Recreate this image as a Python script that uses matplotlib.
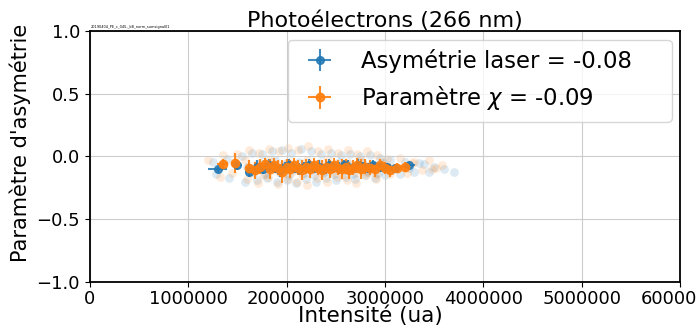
import numpy as np
import matplotlib
matplotlib.use('Agg')
import matplotlib.pyplot as plt

# intensities in units of 1e6 (ua), asymmetry values
blue_x = [1.30, 1.50, 1.62, 1.70, 1.76, 1.82, 1.88, 1.93, 1.98, 2.03, 2.08, 2.13, 2.18, 2.23, 2.28,
          2.33, 2.38, 2.43, 2.48, 2.53, 2.58, 2.63, 2.68, 2.73, 2.78, 2.83, 2.88, 2.95, 3.02, 3.10, 3.25]
blue_y = [-0.10, -0.07, -0.12, -0.08, -0.10, -0.07, -0.09, -0.11, -0.08, -0.07, -0.09, -0.10, -0.08, -0.07, -0.09,
          -0.08, -0.10, -0.07, -0.08, -0.09, -0.07, -0.08, -0.09, -0.07, -0.08, -0.09, -0.07, -0.08, -0.08, -0.09, -0.07]
blue_xerr = [0.10, 0.05, 0.04, 0.03, 0.03, 0.03, 0.03, 0.03, 0.03, 0.03, 0.03, 0.03, 0.03, 0.03, 0.03,
             0.03, 0.03, 0.03, 0.03, 0.03, 0.03, 0.03, 0.03, 0.03, 0.03, 0.03, 0.03, 0.04, 0.04, 0.05, 0.06]
blue_yerr = [0.02, 0.04, 0.04, 0.05, 0.04, 0.05, 0.04, 0.05, 0.04, 0.05, 0.04, 0.05, 0.04, 0.05, 0.04,
             0.05, 0.04, 0.05, 0.04, 0.05, 0.04, 0.05, 0.04, 0.05, 0.04, 0.04, 0.04, 0.04, 0.03, 0.03, 0.02]

orange_x = [1.35, 1.48, 1.62, 1.68, 1.73, 1.78, 1.83, 1.87, 1.91, 1.95, 2.00, 2.04, 2.08, 2.12, 2.16, 2.20,
            2.24, 2.28, 2.32, 2.36, 2.40, 2.44, 2.48, 2.52, 2.56, 2.60, 2.64, 2.68, 2.72, 2.76, 2.80, 2.85,
            2.90, 2.95, 3.00, 3.05, 3.12, 3.20]
orange_y = [-0.06, -0.05, -0.09, -0.11, -0.08, -0.06, -0.10, -0.07, -0.09, -0.12, -0.08, -0.10, -0.07, -0.09,
            -0.11, -0.08, -0.10, -0.07, -0.09, -0.11, -0.08, -0.10, -0.07, -0.09, -0.10, -0.08, -0.11, -0.09,
            -0.07, -0.10, -0.08, -0.09, -0.10, -0.07, -0.09, -0.11, -0.09, -0.08]
orange_xerr = [0.06, 0.04, 0.03, 0.03, 0.03, 0.03, 0.03, 0.03, 0.03, 0.03, 0.03, 0.03, 0.03, 0.03, 0.03, 0.03,
               0.03, 0.03, 0.03, 0.03, 0.03, 0.03, 0.03, 0.03, 0.03, 0.03, 0.03, 0.03, 0.03, 0.03, 0.03, 0.03,
               0.03, 0.03, 0.03, 0.04, 0.04, 0.05]
orange_yerr = [0.04, 0.08, 0.06, 0.07, 0.06, 0.05, 0.08, 0.06, 0.06, 0.09, 0.06, 0.07, 0.06, 0.06, 0.08, 0.06,
               0.07, 0.06, 0.06, 0.08, 0.06, 0.07, 0.06, 0.06, 0.08, 0.06, 0.07, 0.06, 0.06, 0.08, 0.06, 0.06,
               0.06, 0.05, 0.05, 0.05, 0.04, 0.04]

# individual shots (faint cloud)
cloud_blue_x = [1.25, 1.40, 1.55, 1.65, 1.75, 1.85, 1.95, 2.05, 2.15, 2.25, 2.35, 2.45, 2.55, 2.65, 2.75, 2.85,
                2.95, 3.05, 3.20, 3.35, 3.50, 3.70,
                1.28, 1.42, 1.58, 1.70, 1.80, 1.90, 2.00, 2.10, 2.20, 2.30, 2.40, 2.50, 2.60, 2.70, 2.80, 2.90,
                3.00, 3.15, 3.30, 3.45, 3.60,
                1.60, 1.67, 1.73, 1.78, 1.83, 1.88, 1.93, 1.98, 2.03, 2.08, 2.13, 2.18, 2.23, 2.28, 2.33, 2.38,
                2.43, 2.48, 2.53, 2.58, 2.63, 2.68, 2.73, 2.78, 2.83, 2.88, 2.93, 2.98, 3.08, 3.25, 3.40]
cloud_blue_y = [-0.04, -0.02, 0.00, 0.03, 0.02, 0.04, 0.05, 0.03, 0.06, 0.04, 0.02, 0.03, 0.01, 0.02, 0.00, 0.01,
                -0.01, -0.03, -0.04, -0.05, -0.08, -0.12,
                -0.14, -0.17, -0.20, -0.19, -0.17, -0.20, -0.19, -0.21, -0.18, -0.20, -0.17, -0.19, -0.16, -0.18,
                -0.15, -0.17, -0.15, -0.14, -0.12, -0.12, -0.10,
                -0.08, -0.12, -0.05, -0.14, -0.09, -0.03, -0.13, -0.06, -0.15, -0.10, -0.04, -0.13, -0.07, -0.15,
                -0.05, -0.12, -0.09, -0.14, -0.04, -0.11, -0.06, -0.14, -0.09, -0.05, -0.12, -0.08, -0.13, -0.05,
                -0.10, -0.09, -0.06]
cloud_orange_x = [1.20, 1.35, 1.50, 1.62, 1.72, 1.82, 1.92, 2.02, 2.12, 2.22, 2.32, 2.42, 2.52, 2.62, 2.72, 2.82,
                  2.92, 3.02, 3.15, 3.30, 3.45, 3.58,
                  1.32, 1.45, 1.60, 1.71, 1.81, 1.91, 2.01, 2.11, 2.21, 2.31, 2.41, 2.51, 2.61, 2.71, 2.81, 2.91,
                  3.05, 3.22, 3.38, 3.52,
                  1.58, 1.64, 1.70, 1.76, 1.81, 1.86, 1.91, 1.96, 2.01, 2.06, 2.11, 2.16, 2.21, 2.26, 2.31, 2.36,
                  2.41, 2.46, 2.51, 2.56, 2.61, 2.66, 2.71, 2.76, 2.81, 2.86, 2.91, 2.96, 3.10, 3.28, 3.48]
cloud_orange_y = [-0.03, 0.01, 0.02, 0.05, 0.03, 0.06, 0.04, 0.07, 0.05, 0.08, 0.04, 0.06, 0.03, 0.05, 0.02, 0.04,
                  0.01, -0.02, -0.01, -0.04, -0.03, -0.07,
                  -0.16, -0.13, -0.18, -0.21, -0.16, -0.22, -0.18, -0.20, -0.23, -0.17, -0.20, -0.16, -0.19, -0.21,
                  -0.15, -0.18, -0.14, -0.13, -0.11, -0.09,
                  -0.03, -0.13, -0.06, -0.15, -0.02, -0.11, -0.07, -0.14, -0.04, -0.12, -0.08, -0.15, -0.03, -0.11,
                  -0.06, -0.14, -0.02, -0.12, -0.07, -0.15, -0.04, -0.10, -0.13, -0.03, -0.12, -0.06, -0.14, -0.04,
                  -0.08, -0.05, -0.10]

scale = 1e6

fig = plt.figure(figsize=(6.96, 3.25), dpi=100)
ax = fig.add_axes([0.129, 0.132, 0.848, 0.773])

ax.scatter(np.array(cloud_blue_x) * scale, cloud_blue_y, s=40, color='C0', alpha=0.15, linewidths=0)
ax.scatter(np.array(cloud_orange_x) * scale, cloud_orange_y, s=40, color='C1', alpha=0.15, linewidths=0)

ax.errorbar(np.array(blue_x) * scale, blue_y, xerr=np.array(blue_xerr) * scale, yerr=blue_yerr,
            fmt='o', ms=5.5, elinewidth=1.5, color='C0', alpha=0.85, label='Asymétrie laser = -0.08')
ax.errorbar(np.array(orange_x) * scale, orange_y, xerr=np.array(orange_xerr) * scale, yerr=orange_yerr,
            fmt='o', ms=6, elinewidth=1.5, color='C1', alpha=0.9, label='Paramètre $\\chi$ = -0.09')

ax.set_xlim(0, 6e6)
ax.set_ylim(-1.0, 1.0)
ax.set_yticks([-1.0, -0.5, 0.0, 0.5, 1.0])
ax.ticklabel_format(axis='x', style='plain', useOffset=False)
ax.tick_params(labelsize=13)
ax.tick_params(axis='x', pad=2)
ax.grid(True, color='#cccccc')
for s in ax.spines.values():
    s.set_linewidth(1.3)

ax.set_xlabel('Intensité (ua)', fontsize=15.5)
ax.xaxis.set_label_coords(0.476, -0.093)
ax.set_ylabel("Paramètre d'asymétrie", fontsize=15)
ax.yaxis.set_label_coords(-0.1, 0.554)
ax.set_title('Photoélectrons (266 nm)', fontsize=16, pad=2)
fig.text(0.131, 0.915, '20190404_PE_c_045-_kB_norm_sumsignal01', fontsize=2.5, color='black')

ax.legend(loc='upper right', fontsize=16.4, mode='expand', borderaxespad=0,
          bbox_to_anchor=(0.3356, 0.0, 0.6508, 0.964))

fig.savefig('out.png', dpi=100)
